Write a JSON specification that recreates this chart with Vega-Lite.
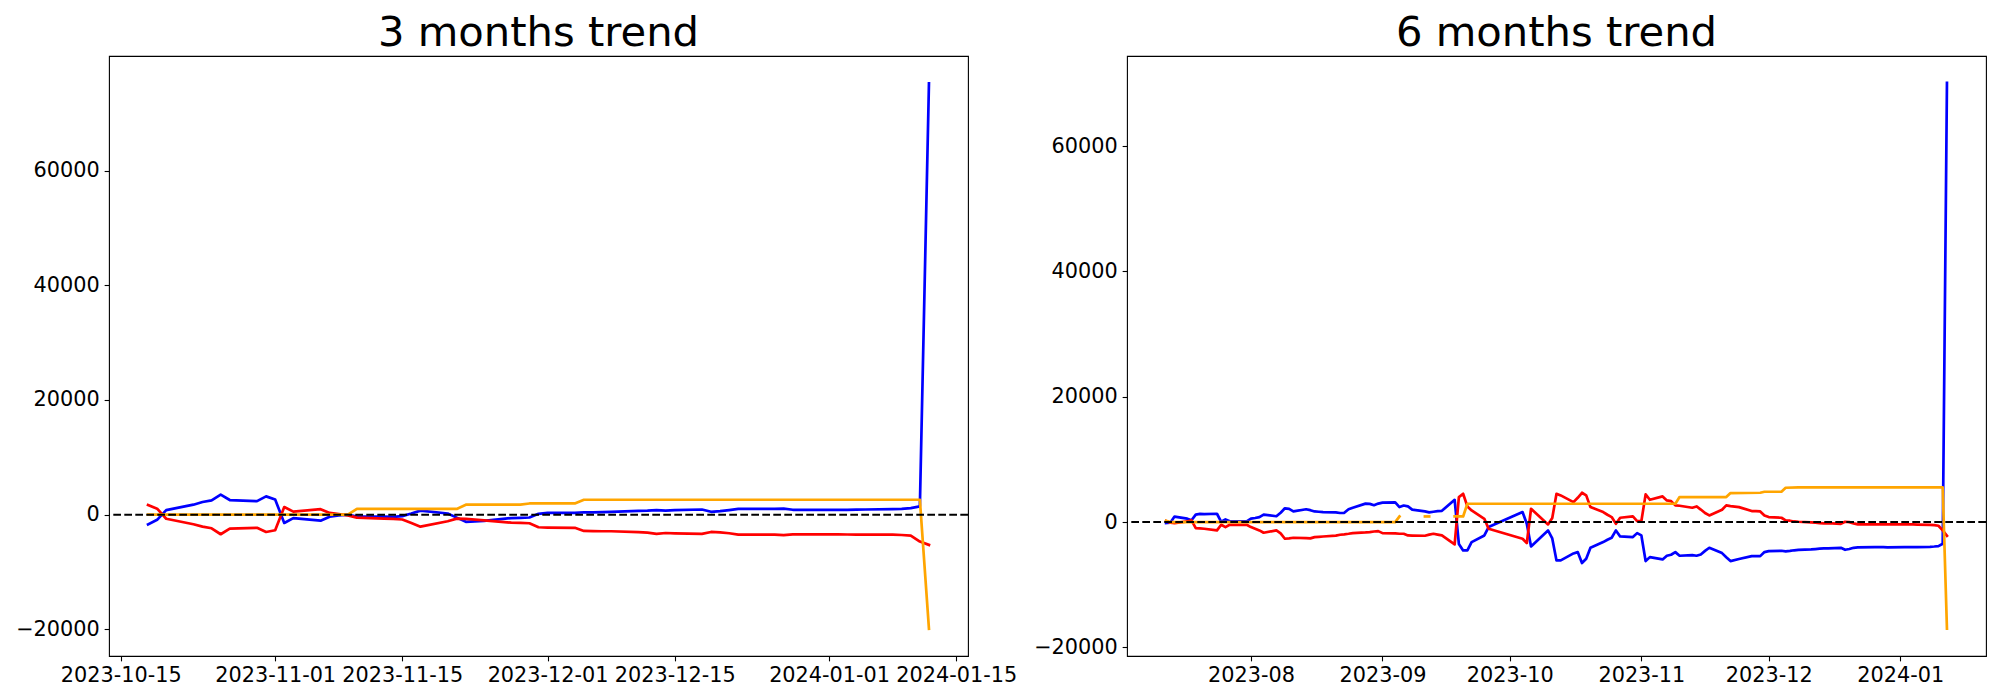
{
"$schema": "https://vega.github.io/schema/vega-lite/v6.json",
"background": "white",
"padding": {"left": 15, "top": 12, "right": 5, "bottom": 5},
"bounds": "flush",
"spacing": 159,
"config": {
  "font": "DejaVu Sans",
  "view": {"stroke": "black", "strokeWidth": 1.1},
  "axis": {"grid": false, "domain": false, "ticks": true, "tickColor": "black", "tickWidth": 1.1, "tickSize": 4.86, "labelPadding": 4.86, "labelFont": "DejaVu Sans", "labelFontSize": 20.8, "labelColor": "black", "labelFlush": false, "labelOverlap": false},
  "title": {"font": "DejaVu Sans", "fontSize": 41.7, "fontWeight": "normal", "color": "black", "anchor": "middle", "offset": 1, "baseline": "alphabetic"},
  "line": {"strokeWidth": 2.7, "strokeJoin": "round", "strokeCap": "square"}
},
"datasets": {
  "a": [
    {"d":"2023-10-18","b":-1700,"r":1700,"o":0},
    {"d":"2023-10-19","b":-900,"r":1050,"o":0},
    {"d":"2023-10-20","b":780,"r":-720,"o":0},
    {"d":"2023-10-23","b":1740,"r":-1680,"o":0},
    {"d":"2023-10-24","b":2200,"r":-2090,"o":0},
    {"d":"2023-10-25","b":2500,"r":-2380,"o":0},
    {"d":"2023-10-26","b":3500,"r":-3420,"o":0},
    {"d":"2023-10-27","b":2550,"r":-2440,"o":0},
    {"d":"2023-10-30","b":2350,"r":-2300,"o":0},
    {"d":"2023-10-31","b":3190,"r":-3020,"o":0},
    {"d":"2023-11-01","b":2650,"r":-2730,"o":0},
    {"d":"2023-11-02","b":-1450,"r":1330,"o":0},
    {"d":"2023-11-03","b":-600,"r":520,"o":0},
    {"d":"2023-11-06","b":-1050,"r":950,"o":0},
    {"d":"2023-11-07","b":-350,"r":300,"o":0},
    {"d":"2023-11-08","b":-150,"r":100,"o":0},
    {"d":"2023-11-09","b":0,"r":-120,"o":0},
    {"d":"2023-11-10","b":-350,"r":-520,"o":1000},
    {"d":"2023-11-13","b":-350,"r":-700,"o":1000},
    {"d":"2023-11-14","b":-380,"r":-750,"o":1000},
    {"d":"2023-11-15","b":-250,"r":-850,"o":1000},
    {"d":"2023-11-16","b":200,"r":-1450,"o":1000},
    {"d":"2023-11-17","b":700,"r":-2090,"o":1000},
    {"d":"2023-11-20","b":200,"r":-1150,"o":1000},
    {"d":"2023-11-21","b":-520,"r":-700,"o":1000},
    {"d":"2023-11-22","b":-1250,"r":-750,"o":1740},
    {"d":"2023-11-24","b":-1100,"r":-1000,"o":1740},
    {"d":"2023-11-27","b":-600,"r":-1400,"o":1740},
    {"d":"2023-11-28","b":-550,"r":-1450,"o":1740},
    {"d":"2023-11-29","b":-500,"r":-1500,"o":1950},
    {"d":"2023-11-30","b":150,"r":-2200,"o":1950},
    {"d":"2023-12-01","b":300,"r":-2250,"o":1950},
    {"d":"2023-12-04","b":300,"r":-2300,"o":1950},
    {"d":"2023-12-05","b":420,"r":-2840,"o":2600},
    {"d":"2023-12-06","b":400,"r":-2870,"o":2600},
    {"d":"2023-12-07","b":450,"r":-2900,"o":2600},
    {"d":"2023-12-08","b":500,"r":-2900,"o":2600},
    {"d":"2023-12-11","b":650,"r":-3050,"o":2600},
    {"d":"2023-12-12","b":700,"r":-3150,"o":2600},
    {"d":"2023-12-13","b":800,"r":-3350,"o":2600},
    {"d":"2023-12-14","b":700,"r":-3200,"o":2600},
    {"d":"2023-12-15","b":780,"r":-3250,"o":2600},
    {"d":"2023-12-18","b":900,"r":-3360,"o":2600},
    {"d":"2023-12-19","b":500,"r":-3020,"o":2600},
    {"d":"2023-12-20","b":600,"r":-3080,"o":2600},
    {"d":"2023-12-21","b":800,"r":-3250,"o":2600},
    {"d":"2023-12-22","b":1000,"r":-3480,"o":2600},
    {"d":"2023-12-26","b":1000,"r":-3480,"o":2600},
    {"d":"2023-12-27","b":1050,"r":-3560,"o":2600},
    {"d":"2023-12-28","b":850,"r":-3450,"o":2600},
    {"d":"2023-12-29","b":850,"r":-3450,"o":2600},
    {"d":"2024-01-02","b":850,"r":-3450,"o":2600},
    {"d":"2024-01-03","b":850,"r":-3460,"o":2600},
    {"d":"2024-01-04","b":870,"r":-3470,"o":2600},
    {"d":"2024-01-05","b":900,"r":-3480,"o":2600},
    {"d":"2024-01-08","b":950,"r":-3500,"o":2600},
    {"d":"2024-01-09","b":1000,"r":-3550,"o":2600},
    {"d":"2024-01-10","b":1150,"r":-3650,"o":2600},
    {"d":"2024-01-11","b":1450,"r":-4700,"o":2600},
    {"d":"2024-01-12","b":75250,"r":-5280,"o":-19900}
  ],
  "b": [
    {"d":"2023-07-12","b":-160,"r":160},
    {"d":"2023-07-13","b":-100,"r":-110},
    {"d":"2023-07-14","b":880,"r":-160},
    {"d":"2023-07-17","b":550,"r":100},
    {"d":"2023-07-18","b":300,"r":270},
    {"d":"2023-07-19","b":1200,"r":-960},
    {"d":"2023-07-20","b":1300,"r":-1000},
    {"d":"2023-07-21","b":1280,"r":-1060},
    {"d":"2023-07-24","b":1330,"r":-1330},
    {"d":"2023-07-25","b":50,"r":-430},
    {"d":"2023-07-26","b":430,"r":-800},
    {"d":"2023-07-27","b":130,"r":-430},
    {"d":"2023-07-28","b":130,"r":-430},
    {"d":"2023-07-31","b":130,"r":-430},
    {"d":"2023-08-01","b":550,"r":-800},
    {"d":"2023-08-02","b":650,"r":-1060},
    {"d":"2023-08-03","b":800,"r":-1330},
    {"d":"2023-08-04","b":1200,"r":-1700},
    {"d":"2023-08-07","b":930,"r":-1330},
    {"d":"2023-08-08","b":1500,"r":-1800},
    {"d":"2023-08-09","b":2200,"r":-2660},
    {"d":"2023-08-10","b":2100,"r":-2600},
    {"d":"2023-08-11","b":1700,"r":-2500},
    {"d":"2023-08-14","b":2050,"r":-2550},
    {"d":"2023-08-15","b":1900,"r":-2600},
    {"d":"2023-08-16","b":1700,"r":-2400},
    {"d":"2023-08-17","b":1650,"r":-2350},
    {"d":"2023-08-18","b":1600,"r":-2300},
    {"d":"2023-08-21","b":1550,"r":-2150},
    {"d":"2023-08-22","b":1450,"r":-2020},
    {"d":"2023-08-23","b":1480,"r":-1950},
    {"d":"2023-08-24","b":2050,"r":-1860},
    {"d":"2023-08-25","b":2300,"r":-1750},
    {"d":"2023-08-28","b":2950,"r":-1650},
    {"d":"2023-08-29","b":2900,"r":-1600},
    {"d":"2023-08-30","b":2700,"r":-1500},
    {"d":"2023-08-31","b":2950,"r":-1440},
    {"d":"2023-09-01","b":3100,"r":-1760},
    {"d":"2023-09-04","b":3150,"r":-1800},
    {"d":"2023-09-05","b":2400,"r":-1860},
    {"d":"2023-09-06","b":2650,"r":-1860},
    {"d":"2023-09-07","b":2500,"r":-2130},
    {"d":"2023-09-08","b":2000,"r":-2150},
    {"d":"2023-09-11","b":1700,"r":-2180},
    {"d":"2023-09-12","b":1550,"r":-2000},
    {"d":"2023-09-13","b":1650,"r":-1860},
    {"d":"2023-09-14","b":1750,"r":-2000},
    {"d":"2023-09-15","b":1800,"r":-2130},
    {"d":"2023-09-18","b":3550,"r":-3560},
    {"d":"2023-09-19","b":-3500,"r":3990},
    {"d":"2023-09-20","b":-4520,"r":4520},
    {"d":"2023-09-21","b":-4520,"r":2500},
    {"d":"2023-09-22","b":-3190,"r":1860},
    {"d":"2023-09-25","b":-2130,"r":530},
    {"d":"2023-09-26","b":-800,"r":-1060},
    {"d":"2023-10-04","b":1600,"r":-2660},
    {"d":"2023-10-05","b":-270,"r":-3350},
    {"d":"2023-10-06","b":-3880,"r":2130},
    {"d":"2023-10-10","b":-1330,"r":-370},
    {"d":"2023-10-11","b":-2600,"r":650},
    {"d":"2023-10-12","b":-6120,"r":4520},
    {"d":"2023-10-13","b":-6120,"r":4260},
    {"d":"2023-10-16","b":-5000,"r":3190},
    {"d":"2023-10-17","b":-4790,"r":3880},
    {"d":"2023-10-18","b":-6540,"r":4680},
    {"d":"2023-10-19","b":-5850,"r":4260},
    {"d":"2023-10-20","b":-4100,"r":2390},
    {"d":"2023-10-23","b":-3190,"r":1600},
    {"d":"2023-10-24","b":-2820,"r":1170},
    {"d":"2023-10-25","b":-2500,"r":800},
    {"d":"2023-10-26","b":-1330,"r":-270},
    {"d":"2023-10-27","b":-2290,"r":690},
    {"d":"2023-10-30","b":-2390,"r":900},
    {"d":"2023-10-31","b":-1760,"r":160},
    {"d":"2023-11-01","b":-2130,"r":160},
    {"d":"2023-11-02","b":-6220,"r":4420},
    {"d":"2023-11-03","b":-5590,"r":3560},
    {"d":"2023-11-06","b":-5960,"r":4100},
    {"d":"2023-11-07","b":-5370,"r":3460},
    {"d":"2023-11-08","b":-5210,"r":3350},
    {"d":"2023-11-09","b":-4790,"r":2660},
    {"d":"2023-11-10","b":-5370,"r":2610},
    {"d":"2023-11-13","b":-5270,"r":2290},
    {"d":"2023-11-14","b":-5370,"r":2500},
    {"d":"2023-11-15","b":-5160,"r":2000},
    {"d":"2023-11-16","b":-4600,"r":1450},
    {"d":"2023-11-17","b":-4100,"r":1060},
    {"d":"2023-11-20","b":-4950,"r":1970},
    {"d":"2023-11-21","b":-5600,"r":2660},
    {"d":"2023-11-22","b":-6220,"r":2550},
    {"d":"2023-11-24","b":-5900,"r":2390},
    {"d":"2023-11-27","b":-5430,"r":1760},
    {"d":"2023-11-28","b":-5430,"r":1760},
    {"d":"2023-11-29","b":-5430,"r":1700},
    {"d":"2023-11-30","b":-4790,"r":1060},
    {"d":"2023-12-01","b":-4630,"r":800},
    {"d":"2023-12-04","b":-4580,"r":690},
    {"d":"2023-12-05","b":-4680,"r":270},
    {"d":"2023-12-06","b":-4600,"r":220},
    {"d":"2023-12-07","b":-4500,"r":100},
    {"d":"2023-12-08","b":-4420,"r":50},
    {"d":"2023-12-11","b":-4350,"r":-50},
    {"d":"2023-12-12","b":-4300,"r":-100},
    {"d":"2023-12-13","b":-4250,"r":-150},
    {"d":"2023-12-14","b":-4200,"r":-200},
    {"d":"2023-12-15","b":-4200,"r":-160},
    {"d":"2023-12-18","b":-4100,"r":-270},
    {"d":"2023-12-19","b":-4420,"r":50},
    {"d":"2023-12-20","b":-4300,"r":0},
    {"d":"2023-12-21","b":-4100,"r":-200},
    {"d":"2023-12-22","b":-4050,"r":-370},
    {"d":"2023-12-26","b":-4000,"r":-370},
    {"d":"2023-12-27","b":-3990,"r":-370},
    {"d":"2023-12-28","b":-3990,"r":-370},
    {"d":"2023-12-29","b":-4050,"r":-370},
    {"d":"2024-01-02","b":-4000,"r":-370},
    {"d":"2024-01-03","b":-4000,"r":-370},
    {"d":"2024-01-04","b":-3990,"r":-380},
    {"d":"2024-01-05","b":-3980,"r":-390},
    {"d":"2024-01-08","b":-3950,"r":-430},
    {"d":"2024-01-09","b":-3900,"r":-480},
    {"d":"2024-01-10","b":-3830,"r":-590},
    {"d":"2024-01-11","b":-3460,"r":-1330},
    {"d":"2024-01-12","b":70100,"r":-2180}
  ],
  "bo": [
    {"d":"2023-07-12","o":200,"g":1},
    {"d":"2023-07-13","o":0,"g":1},
    {"d":"2023-08-01","o":0,"g":1},
    {"d":"2023-09-01","o":0,"g":1},
    {"d":"2023-09-04","o":0,"g":1},
    {"d":"2023-09-05","o":900,"g":1},
    {"d":"2023-09-11","o":900,"g":2},
    {"d":"2023-09-12","o":900,"g":2},
    {"d":"2023-09-18","o":900,"g":3},
    {"d":"2023-09-19","o":900,"g":3},
    {"d":"2023-09-20","o":900,"g":3},
    {"d":"2023-09-21","o":2930,"g":3},
    {"d":"2023-10-02","o":2930,"g":3},
    {"d":"2023-11-01","o":2930,"g":3},
    {"d":"2023-11-09","o":2930,"g":3},
    {"d":"2023-11-10","o":3990,"g":3},
    {"d":"2023-11-21","o":3990,"g":3},
    {"d":"2023-11-22","o":4630,"g":3},
    {"d":"2023-11-29","o":4680,"g":3},
    {"d":"2023-11-30","o":4840,"g":3},
    {"d":"2023-12-04","o":4840,"g":3},
    {"d":"2023-12-05","o":5480,"g":3},
    {"d":"2023-12-08","o":5530,"g":3},
    {"d":"2024-01-02","o":5530,"g":3},
    {"d":"2024-01-11","o":5530,"g":3},
    {"d":"2024-01-12","o":-17000,"g":3}
  ]
},
"hconcat": [
  {
    "width": 859, "height": 600,
    "title": "3 months trend",
    "data": {"name": "a"},
    "layer": [
      {"mark": {"type": "line", "color": "blue"},
       "encoding": {
         "x": {"field": "d", "type": "temporal", "title": null,
               "scale": {"type": "utc", "domain": [{"utc": true, "year": 2023, "month": 10, "date": 13, "hours": 16, "minutes": 48}, {"utc": true, "year": 2024, "month": 1, "date": 16, "hours": 7, "minutes": 12}]},
               "axis": {"format": "%Y-%m-%d", "labelAngle": 0, "values": [
                 {"utc": true, "year": 2023, "month": 10, "date": 15},
                 {"utc": true, "year": 2023, "month": 11, "date": 1},
                 {"utc": true, "year": 2023, "month": 11, "date": 15},
                 {"utc": true, "year": 2023, "month": 12, "date": 1},
                 {"utc": true, "year": 2023, "month": 12, "date": 15},
                 {"utc": true, "year": 2024, "month": 1, "date": 1},
                 {"utc": true, "year": 2024, "month": 1, "date": 15}]}},
         "y": {"field": "b", "type": "quantitative", "title": null,
               "scale": {"domain": [-24658, 80008], "nice": false, "zero": false},
               "axis": {"format": "d", "values": [-20000, 0, 20000, 40000, 60000]}}
       }},
      {"mark": {"type": "line", "color": "red"},
       "encoding": {"x": {"field": "d", "type": "temporal", "title": null}, "y": {"field": "r", "type": "quantitative", "title": null}}},
      {"mark": {"type": "line", "color": "orange"},
       "encoding": {"x": {"field": "d", "type": "temporal", "title": null}, "y": {"field": "o", "type": "quantitative", "title": null}}},
      {"data": {"values": [{}]},
       "mark": {"type": "rule", "color": "black", "strokeWidth": 2, "strokeDash": [7.7, 3.3]},
       "encoding": {"y": {"datum": 0, "type": "quantitative"}}}
    ]
  },
  {
    "width": 859, "height": 600,
    "title": "6 months trend",
    "layer": [
      {"data": {"name": "b"},
       "mark": {"type": "line", "color": "blue"},
       "encoding": {
         "x": {"field": "d", "type": "temporal", "title": null,
               "scale": {"type": "utc", "domain": [{"utc": true, "year": 2023, "month": 7, "date": 2, "hours": 19, "minutes": 12}, {"utc": true, "year": 2024, "month": 1, "date": 21, "hours": 4, "minutes": 48}]},
               "axis": {"format": "%Y-%m", "labelAngle": 0, "values": [
                 {"utc": true, "year": 2023, "month": 8, "date": 1},
                 {"utc": true, "year": 2023, "month": 9, "date": 1},
                 {"utc": true, "year": 2023, "month": 10, "date": 1},
                 {"utc": true, "year": 2023, "month": 11, "date": 1},
                 {"utc": true, "year": 2023, "month": 12, "date": 1},
                 {"utc": true, "year": 2024, "month": 1, "date": 1}]}},
         "y": {"field": "b", "type": "quantitative", "title": null,
               "scale": {"domain": [-21370, 74380], "nice": false, "zero": false},
               "axis": {"format": "d", "values": [-20000, 0, 20000, 40000, 60000]}}
       }},
      {"data": {"name": "b"},
       "mark": {"type": "line", "color": "red"},
       "encoding": {"x": {"field": "d", "type": "temporal", "title": null}, "y": {"field": "r", "type": "quantitative", "title": null}}},
      {"data": {"name": "bo"},
       "mark": {"type": "line", "color": "orange"},
       "encoding": {"x": {"field": "d", "type": "temporal", "title": null}, "y": {"field": "o", "type": "quantitative", "title": null}, "detail": {"field": "g", "type": "nominal"}}},
      {"data": {"values": [{}]},
       "mark": {"type": "rule", "color": "black", "strokeWidth": 2, "strokeDash": [7.7, 3.3]},
       "encoding": {"y": {"datum": 0, "type": "quantitative"}}}
    ]
  }
]
}
